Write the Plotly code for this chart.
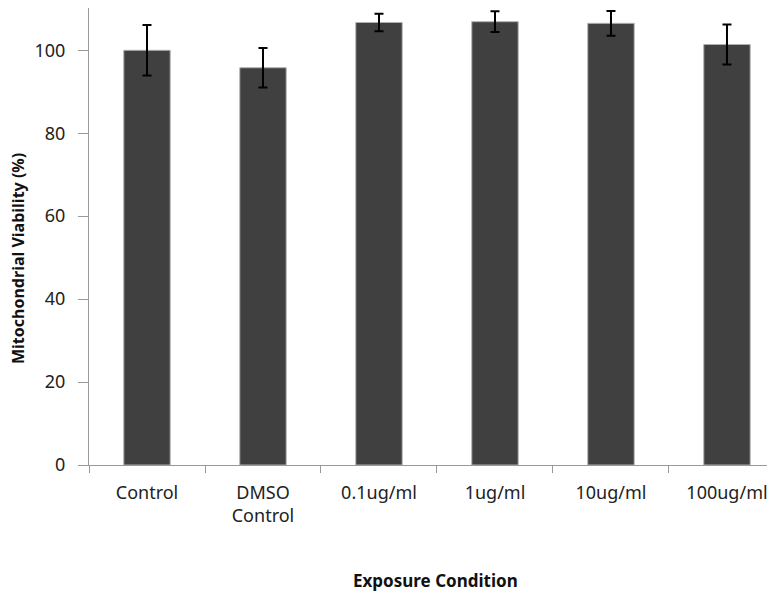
import plotly.graph_objects as go

categories = ["Control", "DMSO<br>Control", "0.1ug/ml", "1ug/ml", "10ug/ml", "100ug/ml"]
viability = [100.0, 95.8, 106.7, 106.9, 106.5, 101.4]
errors = [6.1, 4.75, 2.1, 2.5, 3.0, 4.85]
y_ticks = [0, 20, 40, 60, 80, 100]

FONT = "Noto Sans"

# page body has an 8px default margin; figure sized to fit the window
W, H = 767, 589
L, T = 81, 0
PB = 457  # plot bottom in figure px
B = H - PB
plot_h = PB - T
plot_w = W - L

fig = go.Figure()
fig.add_trace(go.Bar(
    x=categories, y=viability,
    marker=dict(color="#404040", line=dict(color="#b0b0b0", width=1)),
    error_y=dict(type="data", array=errors, visible=True, color="black", thickness=2, width=4.5),
))

fig.update_layout(
    width=W, height=H,
    margin=dict(l=L, r=0, t=T, b=B),
    plot_bgcolor="white", paper_bgcolor="white",
    bargap=0.6,
    showlegend=False,
    font=dict(family=FONT, size=18, color="#222"),
)
fig.update_xaxes(
    range=[-0.5, 5.414],
    tickson="boundaries", ticks="outside", ticklen=7, tickcolor="#999",
    showline=True, linecolor="#999", linewidth=1,
    tickfont=dict(family=FONT, size=18, color="#222"),
    ticklabelstandoff=11,
    showgrid=False,
)
fig.update_yaxes(
    range=[0, 110.2], tickvals=y_ticks,
    ticks="outside", ticklen=10, tickcolor="#999",
    showline=True, linecolor="#999", linewidth=1,
    showgrid=False, zeroline=False,
    tickfont=dict(family=FONT, size=18, color="#222"),
    ticklabelstandoff=9,
)
fig.add_annotation(text="<b>Exposure Condition</b>", xref="paper", yref="paper",
                   x=(435 - 8 - L) / plot_w, y=(PB - (580 - 8)) / plot_h,
                   showarrow=False, xanchor="center", yanchor="middle",
                   font=dict(family=FONT, size=17, color="#111"))
fig.add_annotation(text="<b>Mitochondrial Viability (%)</b>", xref="paper", yref="paper",
                   x=(18 - 8 - L) / plot_w, y=(PB - (259 - 8)) / plot_h,
                   showarrow=False, textangle=-90, xanchor="center", yanchor="middle",
                   font=dict(family=FONT, size=16, color="#111"))

fig.write_html("out.html")
